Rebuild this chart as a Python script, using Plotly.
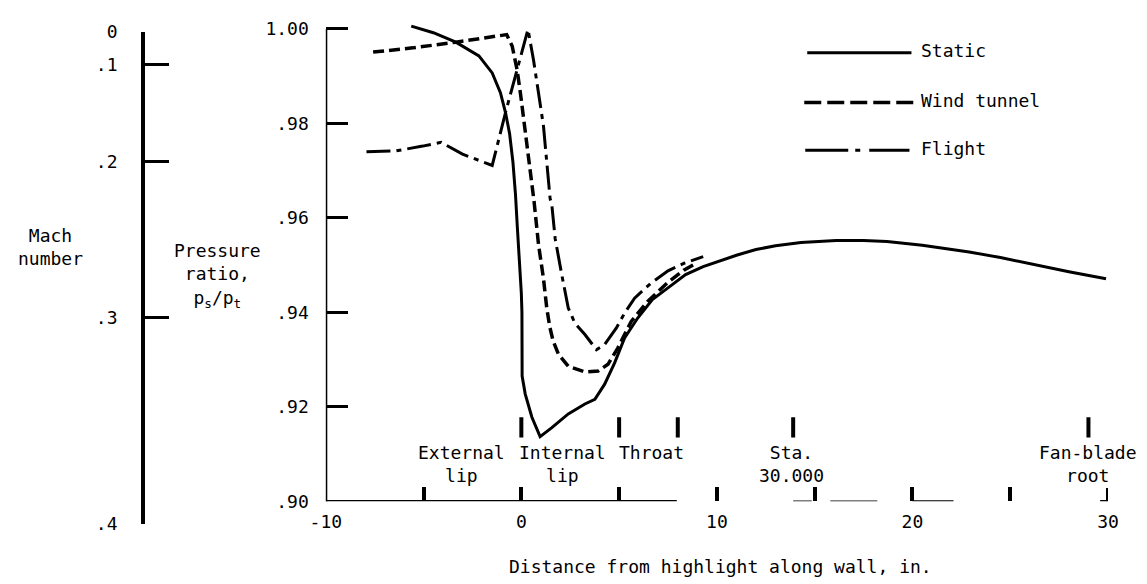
import plotly.graph_objects as go

# ---------------- data ----------------
# Distance from highlight along wall (in.) and static-to-total pressure ratio
static_x = [-5.63, -4.5, -3.35, -2.17, -1.49, -1.07, -0.81, -0.6, -0.43, -0.3, -0.2, -0.09,
            0.0, 0.03, 0.04, 0.2, 0.54, 0.96, 1.56, 2.4, 3.25, 3.76, 4.26, 4.77, 5.28, 5.95,
            6.7, 7.6, 8.4, 9.3, 10.0, 11.0, 12.0, 13.0, 14.3, 16.1, 17.5, 18.7, 20.5, 22.9,
            24.5, 26.3, 28.0, 29.9]
static_p = [1.0006, 0.9992, 0.9972, 0.9943, 0.9907, 0.9865, 0.9823, 0.9778, 0.9718, 0.9650,
            0.9577, 0.9507, 0.9440, 0.9400, 0.9265, 0.9227, 0.9178, 0.9137, 0.9156, 0.9185,
            0.9206, 0.9216, 0.9248, 0.9293, 0.9346, 0.9388, 0.9427, 0.9455, 0.9480, 0.9497,
            0.9507, 0.9521, 0.9533, 0.9541, 0.9548, 0.9552, 0.9552, 0.9550, 0.9542, 0.9528,
            0.9516, 0.9500, 0.9486, 0.9471]

tunnel_x = [-7.58, -5.55, -3.35, -2.0, -0.75, -0.47, -0.22, -0.05, 0.12, 0.29, 0.46, 0.65,
            0.88, 1.13, 1.3, 1.45, 1.62, 1.9, 2.4, 3.25, 3.93, 4.43, 4.94, 5.62, 6.46, 7.48,
            8.33, 8.9]
tunnel_p = [0.9951, 0.9960, 0.9972, 0.9980, 0.9988, 0.9964, 0.9914, 0.9865, 0.9809, 0.9753,
            0.9700, 0.9635, 0.9543, 0.9472, 0.9409, 0.9370, 0.9340, 0.9311, 0.9286, 0.9274,
            0.9276, 0.9290, 0.9325, 0.9381, 0.9423, 0.9463, 0.9490, 0.9503]

flight_x = [-7.92, -6.4, -5.04, -4.11, -3.01, -1.49, -0.81, -0.22, 0.34, 0.62, 0.88, 1.13,
            1.3, 1.47, 1.56, 1.73, 2.07, 2.4, 2.74, 3.25, 3.84, 4.26, 4.86, 5.3, 5.79, 6.63,
            7.5, 8.33, 9.3]
flight_p = [0.9740, 0.9742, 0.9752, 0.9760, 0.9735, 0.9711, 0.9823, 0.9914, 0.9999, 0.9935,
            0.9858, 0.9795, 0.9718, 0.9641, 0.9627, 0.9556, 0.9479, 0.9409, 0.9377, 0.9353,
            0.9321, 0.9332, 0.9367, 0.9400, 0.9430, 0.9462, 0.9488, 0.9504, 0.9518]

x_ticks = [-10, 0, 10, 20, 30]
x_minor_ticks = [-5, 5, 15, 25]
p_ticks = [0.90, 0.92, 0.94, 0.96, 0.98, 1.00]
p_tick_text = [".90", ".92", ".94", ".96", ".98", "1.00"]
mach_ticks = [0, 0.1, 0.2, 0.3, 0.4]
mach_tick_text = ["0", ".1", ".2", ".3", ".4"]

# Inlet stations along the wall
station_x = [0, 5, 8, 13.9, 29]
station_text = ["External<br>lip", "Internal<br>lip", "Throat", "Sta.<br>30.000", "Fan-blade<br>root"]
station_text_x = [-3.05, 2.08, 6.65, 13.8, 29.0]

# ---------------- layout helpers ----------------
W, H = 1147, 584
ML, MR, MT, MB = 20, 39, 20, 30
PW, PH = W - ML - MR, H - MT - MB


def fx(xpix):
    return (xpix - ML) / PW


def fy(ypix):
    return (H - MB - ypix) / PH


FONT = "DejaVu Sans Mono"
FS = 18
INK = "black"


def mach_to_pratio(m):
    # isentropic static/total pressure ratio, gamma = 1.4
    return (1.0 + 0.2 * m * m) ** -3.5


mach_p = [mach_to_pratio(m) for m in mach_ticks]

fig = go.Figure()

fig.add_trace(go.Scatter(x=static_x, y=static_p, mode="lines", name="Static",
                         line=dict(color=INK, width=3), showlegend=False))
fig.add_trace(go.Scatter(x=tunnel_x, y=tunnel_p, mode="lines", name="Wind tunnel",
                         line=dict(color=INK, width=3.5, dash="11px,5px"), showlegend=False))
fig.add_trace(go.Scatter(x=flight_x, y=flight_p, mode="lines", name="Flight",
                         line=dict(color=INK, width=3, dash="24px,6px,5px,6px"), showlegend=False))
# carrier for the Mach number scale
fig.add_trace(go.Scatter(x=[None], y=[None], yaxis="y2", mode="lines", showlegend=False,
                         hoverinfo="skip"))

shapes = []
# main pressure-ratio axis line
shapes.append(dict(type="line", xref="x", yref="y", x0=-10, x1=-10, y0=0.8997, y1=1.0,
                   line=dict(color=INK, width=3)))
# distance axis line (drawn in pieces)
axis_pieces = [(-10, 7.95, 2.5), (13.9, 14.85, 1.5), (15.8, 18.2, 1.5), (20.0, 22.1, 2),
               (29.6, 30.0, 2.5)]
for a, b, w in axis_pieces:
    shapes.append(dict(type="line", xref="x", yref="y", x0=a, x1=b, y0=0.9, y1=0.9,
                       line=dict(color=INK, width=w)))
# end tick at the right edge of the distance scale
shapes.append(dict(type="line", xref="x", yref="y", x0=x_ticks[-1], x1=x_ticks[-1],
                   y0=0.9, y1=0.9028, line=dict(color=INK, width=4)))
# station marks
for sx in station_x:
    shapes.append(dict(type="line", xref="x", yref="y", x0=sx, x1=sx, y0=0.9135, y1=0.9178,
                       line=dict(color=INK, width=4)))

# key
key_rows = [("Static", 50, 805, 910, "solid", 3),
            ("Wind tunnel", 100, 802, 912, "17px,6px", 3.5),
            ("Flight", 148, 803, 908, "43px,7px,5px,9px", 3)]
annotations = []
for label, ypix, x0, x1, dash, w in key_rows:
    shapes.append(dict(type="line", xref="paper", yref="paper", x0=fx(x0), x1=fx(x1),
                       y0=fy(ypix), y1=fy(ypix), line=dict(color=INK, width=w, dash=dash)))
    annotations.append(dict(text=label, xref="paper", yref="paper", x=fx(918), y=fy(ypix - 2),
                            xanchor="left", yanchor="middle", showarrow=False,
                            font=dict(family=FONT, size=FS, color=INK)))

for txt, tx in zip(station_text, station_text_x):
    two = "<br>" in txt
    annotations.append(dict(text=txt, xref="x", yref="y", x=tx, y=0.9080 if two else 0.9103,
                            xanchor="center", yanchor="middle", showarrow=False,
                            font=dict(family=FONT, size=FS, color=INK)))

annotations.append(dict(text="Distance from highlight along wall, in.", xref="paper", yref="paper",
                        x=fx(718), y=fy(567), xanchor="center", yanchor="middle", showarrow=False,
                        font=dict(family=FONT, size=FS, color=INK)))
annotations.append(dict(text="Mach<br>number", xref="paper", yref="paper",
                        x=fx(43), y=fy(245), xanchor="center", yanchor="middle", showarrow=False,
                        font=dict(family=FONT, size=FS, color=INK)))
annotations.append(dict(text="Pressure<br>ratio,<br>p<sub>s</sub>/p<sub>t</sub>", xref="paper",
                        yref="paper", x=fx(211), y=fy(274), xanchor="center", yanchor="middle",
                        showarrow=False, font=dict(family=FONT, size=FS, color=INK)))

tick_font = dict(family=FONT, size=FS, color=INK)

fig.update_layout(
    width=W, height=H,
    margin=dict(l=ML, r=MR, t=MT, b=MB),
    paper_bgcolor="white", plot_bgcolor="rgba(0,0,0,0)",
    showlegend=False,
    xaxis=dict(domain=[fx(320), 1.0], range=[-10, 30], anchor="y",
               tickmode="array", tickvals=x_ticks, ticktext=[str(v) for v in x_ticks],
               ticks="inside", ticklen=14, tickwidth=4, tickcolor=INK,
               minor=dict(tickmode="array", tickvals=x_minor_ticks, ticks="inside",
                          ticklen=14, tickwidth=4, tickcolor=INK, showgrid=False),
               showline=False, showgrid=False, zeroline=False, tickfont=tick_font,
               ticklabelstandoff=8),
    yaxis=dict(domain=[fy(501), 1.0], range=[0.90, 1.0 + 6 / 4750], anchor="x",
               tickmode="array", tickvals=p_ticks, ticktext=p_tick_text,
               ticks="inside", ticklen=22, tickwidth=3, tickcolor=INK,
               showline=False, showgrid=False, zeroline=False, tickfont=tick_font,
               ticklabelstandoff=16),
    yaxis2=dict(domain=[fy(524), fy(29)], range=[mach_p[-1], 1.0], anchor="free",
                position=fx(136), side="left",
                tickmode="array", tickvals=mach_p, ticktext=mach_tick_text,
                ticks="inside", ticklen=24, tickwidth=3, tickcolor=INK,
                showline=True, linewidth=4, linecolor=INK,
                showgrid=False, zeroline=False, tickfont=tick_font, ticklabelstandoff=20),
    shapes=shapes,
    annotations=annotations,
)

fig.write_html("out.html")
